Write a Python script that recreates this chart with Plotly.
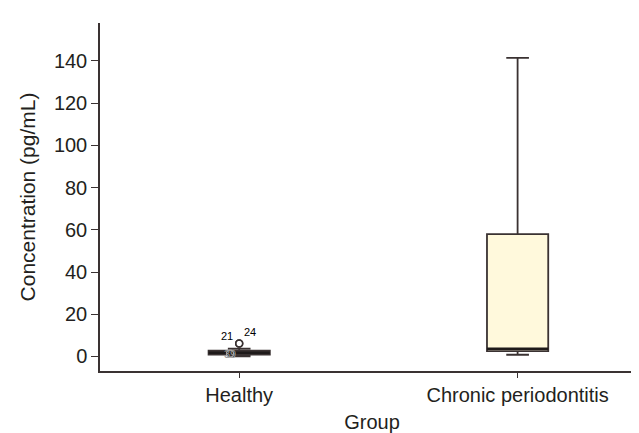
import plotly.graph_objects as go

groups = ["Healthy", "Chronic periodontitis"]
q1 = [0.9, 2.5]
median = [1.8, 3.6]
q3 = [2.7, 58.0]
lower_fence = [0.0, 0.8]
upper_fence = [3.7, 141.5]

# outliers (Healthy group) with case labels
out_group = [0, 0, 0]
out_values = [6.1, 6.1, 1.3]
out_labels = ["21", "24", "39"]

yticks = [0, 20, 40, 60, 80, 100, 120, 140]

line_col = "#3a3232"
fill_col = "#fff9dc"
box_w = 0.22
font_fam = "Liberation Sans, Arial, sans-serif"
fs = 20

fig = go.Figure()
for i, g in enumerate(groups):
    fig.add_trace(go.Box(
        x=[i], q1=[q1[i]], median=[median[i]], q3=[q3[i]],
        lowerfence=[lower_fence[i]], upperfence=[upper_fence[i]],
        width=box_w, whiskerwidth=0.37,
        fillcolor=fill_col, line=dict(color=line_col, width=1.8),
        boxpoints=False, showlegend=False, hoverinfo="skip"))
    # thick median line
    fig.add_trace(go.Scatter(
        x=[i - box_w / 2, i + box_w / 2], y=[median[i], median[i]],
        mode="lines", line=dict(color="#1e1a1a", width=2.5),
        showlegend=False, hoverinfo="skip"))

# outliers
fig.add_trace(go.Scatter(
    x=[out_group[k] for k in range(2)], y=out_values[:2],
    mode="markers", marker=dict(symbol="circle-open", size=7,
                                color=line_col, line=dict(width=1.5)),
    showlegend=False, hoverinfo="skip"))
fig.add_trace(go.Scatter(
    x=[out_group[2] - 0.033], y=[out_values[2]],
    mode="markers", marker=dict(symbol="circle-open", size=7,
                                color="#aaaaaa", line=dict(width=1.2)),
    showlegend=False, hoverinfo="skip"))
fig.add_annotation(x=out_group[0] - 0.015, y=out_values[0], text=out_labels[0],
                   showarrow=False, xanchor="right", yanchor="bottom",
                   font=dict(size=11, color="#000000", family=font_fam))
fig.add_annotation(x=out_group[1] + 0.01, y=out_values[1] + 1.8, text=out_labels[1],
                   showarrow=False, xanchor="left", yanchor="bottom",
                   font=dict(size=11, color="#000000", family=font_fam))
fig.add_annotation(x=out_group[2] - 0.033, y=out_values[2], text=out_labels[2],
                   showarrow=False, xanchor="center", yanchor="middle",
                   font=dict(size=11, color="#999999", family=font_fam))

fig.update_layout(
    width=639, height=433,
    margin=dict(l=92, r=3, t=15, b=70),
    plot_bgcolor="white", paper_bgcolor="white",
    font=dict(family=font_fam, size=fs, color="#231f20"),
    xaxis=dict(range=[-0.5, 1.454], tickvals=[0, 1], ticktext=groups,
               showline=True, linecolor=line_col, linewidth=1.5,
               ticks="outside", ticklen=5, tickcolor=line_col,
               showgrid=False, zeroline=False,
               title=dict(text="Group", font=dict(size=fs), standoff=10),
               tickfont=dict(size=fs)),
    yaxis=dict(range=[-6.9, 158], tickvals=yticks,
               showline=True, linecolor=line_col, linewidth=1.5,
               ticks="outside", ticklen=7, tickcolor=line_col,
               showgrid=False, zeroline=False,
               title=dict(text="Concentration (pg/mL)", font=dict(size=21), standoff=13),
               tickfont=dict(size=fs)),
)

fig.write_html("out.html")
